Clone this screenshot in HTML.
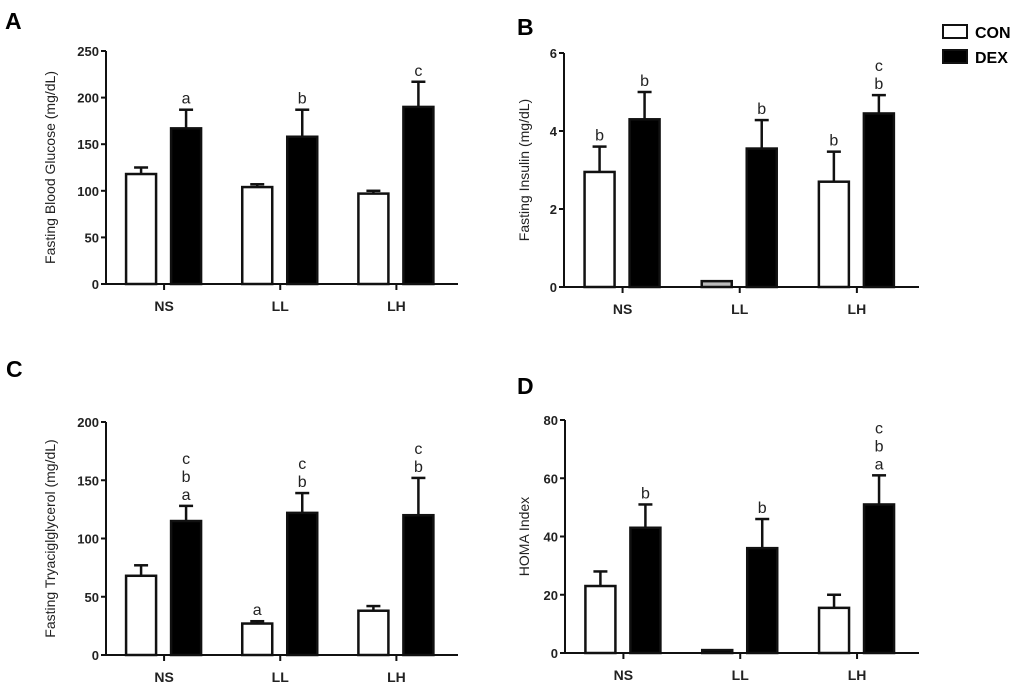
<!DOCTYPE html>
<html><head><meta charset="utf-8"><style>
body{margin:0;background:#fff;}
svg{display:block;font-family:"Liberation Sans",Arial,sans-serif;}
</style></head><body>
<svg id="fig" width="1024" height="688" viewBox="0 0 1024 688"></svg>
<script>
const categories=["NS","LL","LH"];
const conA=[118,104,97], conAErr=[7,3,3], dexA=[167,158,190], dexAErr=[20,29,27];
const conB=[2.95,0.15,2.7], conBErr=[0.65,0,0.77], dexB=[4.3,3.55,4.45], dexBErr=[0.7,0.73,0.47];
const conC=[68,27,38], conCErr=[9,2,4], dexC=[115,122,120], dexCErr=[13,17,32];
const conD=[23,1,15.5], conDErr=[5,0,4.5], dexD=[43,36,51], dexDErr=[8,10,10];
const ticksA=[0,50,100,150,200,250], ticksB=[0,2,4,6], ticksC=[0,50,100,150,200], ticksD=[0,20,40,60,80];
const lettersCon={A:["","",""],B:["b","","b"],C:["","a",""],D:["","",""]};
const lettersDex={A:["a","b","c"],B:["b","b","cb"],C:["cba","cb","cb"],D:["b","b","cba"]};

const NS="http://www.w3.org/2000/svg";
const svg=document.getElementById('fig');
function el(tag,attrs,parent){const e=document.createElementNS(NS,tag);for(const k in attrs)e.setAttribute(k,attrs[k]);(parent||svg).appendChild(e);return e;}

function panel(id,letter,lx,ly,ax,top,bot,xend,ymax,ticks,con,conErr,dex,dexErr,title,titleX,smallFill){
  const g=el('g',{});
  
  
  const y=v=>bot-(v/ymax)*(bot-top);
  const pl=el('text',{x:lx,y:ly,'font-size':23,'font-weight':'bold'},g);pl.textContent=letter;
  
  
  const ya=el('line',{x1:ax,y1:top,x2:ax,y2:bot,stroke:'#111','stroke-width':2},g);
  
  
  const xa=el('line',{x1:ax,y1:bot,x2:xend,y2:bot,stroke:'#111','stroke-width':2},g);
  
  
  ticks.forEach(t=>{
    el('line',{x1:ax-5,y1:y(t),x2:ax,y2:y(t),stroke:'#111','stroke-width':2},g);
    const tl=el('text',{x:ax-7,y:y(t)+5,'font-size':13,'font-weight':'bold','text-anchor':'end',fill:'#222'},g);
    tl.textContent=t;
    
    
  });
  const span=(xend-ax);
  categories.forEach((c,i)=>{
    const cx=ax+span*(0.165+0.33*i);
    el('line',{x1:cx,y1:bot,x2:cx,y2:bot+6,stroke:'#111','stroke-width':2},g);
    const cl=el('text',{x:cx,y:bot+27,'font-size':14,'font-weight':'bold','text-anchor':'middle',fill:'#222'},g);
    cl.textContent=c;
    
    
    [[con[i],conErr[i],cx-38,'con'],[dex[i],dexErr[i],cx+7,'dex']].forEach(([v,e,bx,s])=>{
      const w=30;
      if(e>0){el('line',{x1:bx+w/2,y1:y(v),x2:bx+w/2,y2:y(v+e),stroke:'#111','stroke-width':2.5},g);
        el('line',{x1:bx+w/2-7,y1:y(v+e),x2:bx+w/2+7,y2:y(v+e),stroke:'#111','stroke-width':2.5},g);}
      const fill=s==='dex'?'#000':(v<0.5*ticks[1]?smallFill:'#fff');
      const r=el('rect',{x:bx,y:y(v),width:w,height:Math.max(bot-y(v),1.5),fill:fill,stroke:'#111','stroke-width':2.5},g);
      
      
      const L=(s==='con'?lettersCon:lettersDex)[id][i].split('');
      L.forEach((ch,k)=>{
        const t=el('text',{x:bx+w/2,y:y(v+e)-6-(L.length-1-k)*18,'font-size':16,'text-anchor':'middle',fill:'#222'},g);
        t.textContent=ch;
        
        
      });
    });
  });
  const tt=el('text',{x:titleX,y:(top+bot)/2,'font-size':14,'text-anchor':'middle',fill:'#222',transform:`rotate(-90 ${titleX} ${(top+bot)/2})`},g);
  tt.textContent=title;
  
  
}
panel('A','A',5,29,106,51,284,458,250,ticksA,conA,conAErr,dexA,dexAErr,'Fasting Blood Glucose (mg/dL)',55,'#fff');
panel('B','B',517,35,564,53,287,919,6,ticksB,conB,conBErr,dexB,dexBErr,'Fasting Insulin (mg/dL)',529,'#bbb');
panel('C','C',6,377,106,422,655,458,200,ticksC,conC,conCErr,dexC,dexCErr,'Fasting Tryaciglglycerol  (mg/dL)',55,'#fff');
panel('D','D',517,394,565,420,653,919,80,ticksD,conD,conDErr,dexD,dexDErr,'HOMA Index',529,'#000');

const lg=el('g',{});


el('rect',{x:943,y:25,width:24,height:13,fill:'#fff',stroke:'#111','stroke-width':2},lg);
el('rect',{x:943,y:50,width:24,height:13,fill:'#000',stroke:'#111','stroke-width':2},lg);
const l1=el('text',{x:975,y:38,'font-size':16,'font-weight':'bold'},lg);l1.textContent='CON';


const l2=el('text',{x:975,y:63,'font-size':16,'font-weight':'bold'},lg);l2.textContent='DEX';


</script>
</body></html>
